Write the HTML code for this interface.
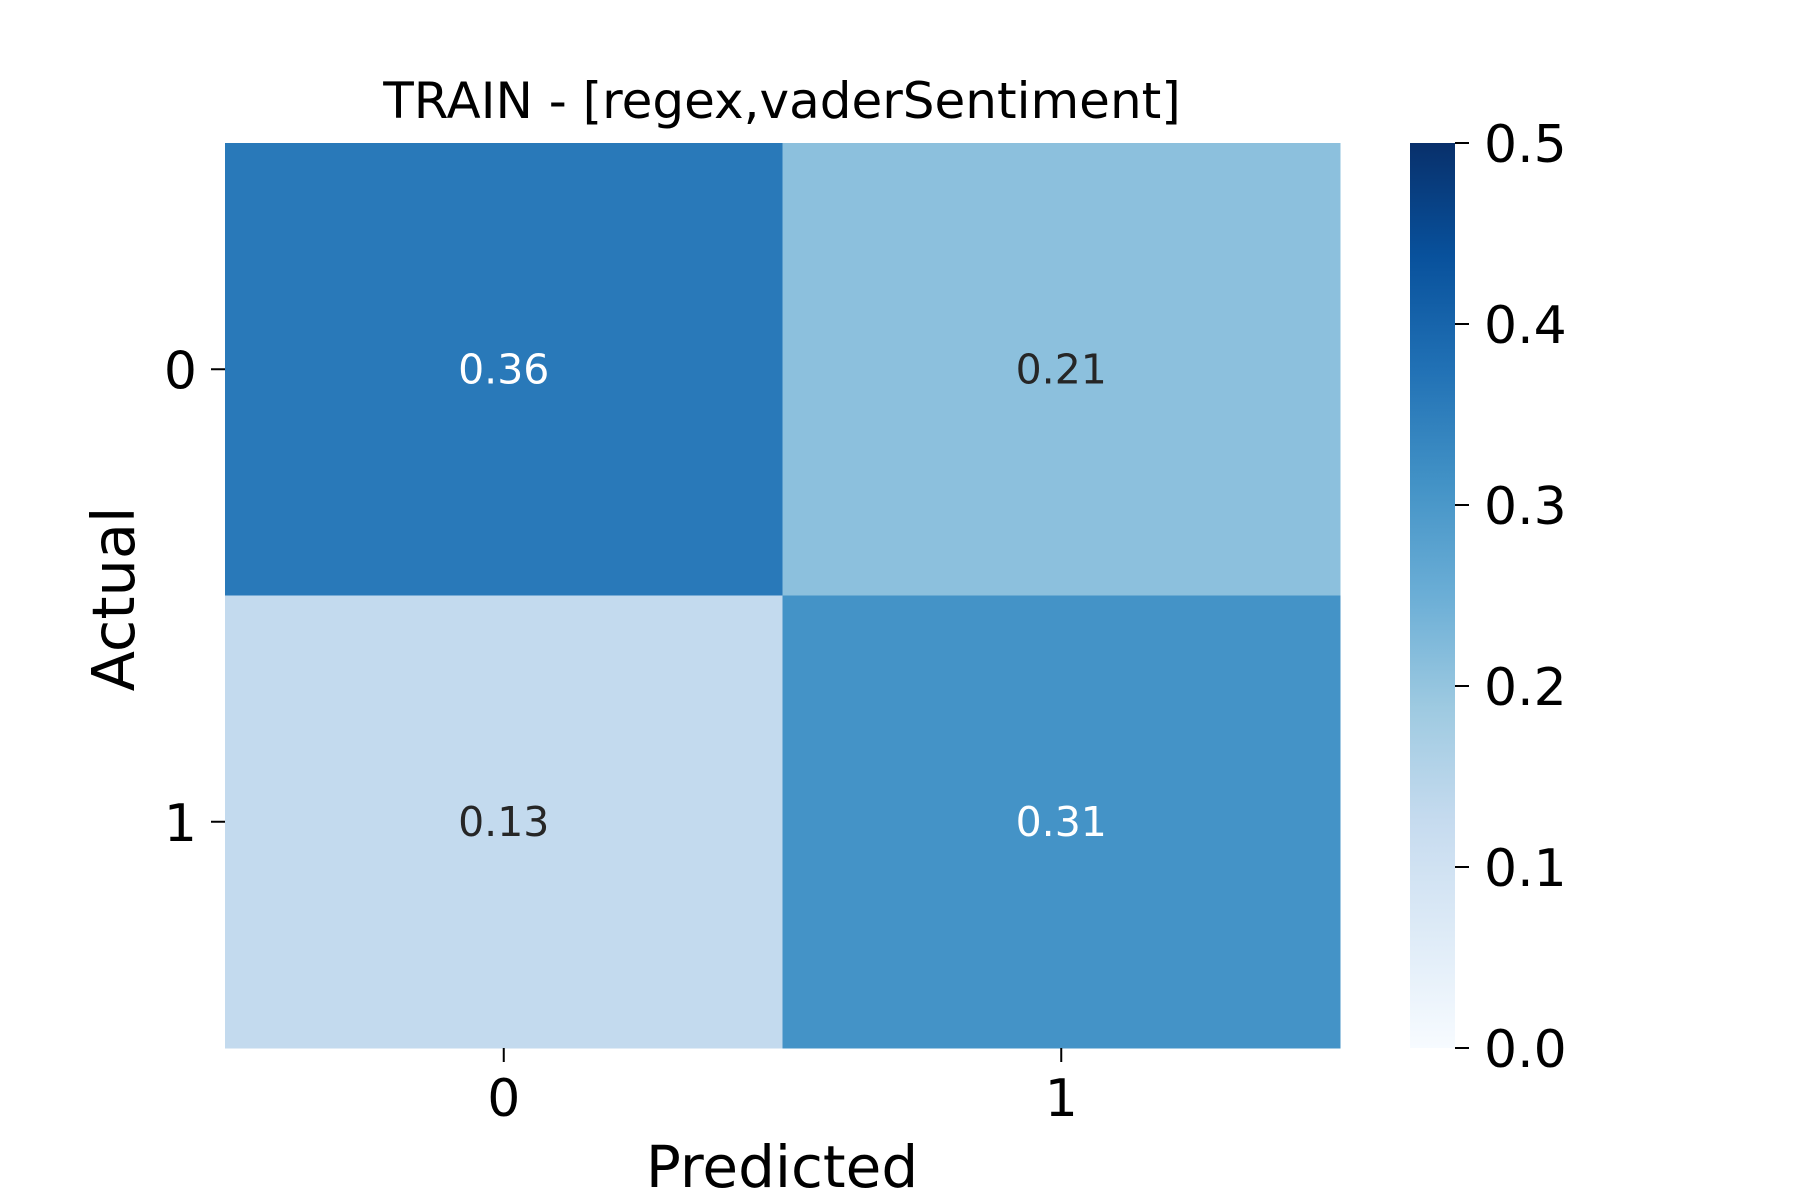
<!DOCTYPE html>
<html><head><meta charset="utf-8"><style>
html,body{margin:0;padding:0;background:#fff;}
svg{display:block;font-family:"DejaVu Sans","Liberation Sans",sans-serif;}
</style></head><body>
<svg id="chart" width="1800" height="1200" viewBox="0 0 1800 1200">
<defs><linearGradient id="cbgrad" x1="0" y1="1" x2="0" y2="0"></linearGradient></defs>
<text x="782" y="118" font-size="50" text-anchor="middle">TRAIN - [regex,vaderSentiment]</text>
<g id="cells"></g>
<g id="axes"></g>
<text x="782" y="1187" font-size="58" text-anchor="middle">Predicted</text>
<text transform="translate(134,599) rotate(-90)" font-size="59" text-anchor="middle">Actual</text>
</svg>
<script>
const rowLabels = ["0","1"];
const colLabels = ["0","1"];
const values = [[0.36,0.21],[0.13,0.31]];
const cbTicks = [0.0,0.1,0.2,0.3,0.4,0.5];
const vmin = 0, vmax = 0.5;
const blues = ["#f7fbff","#deebf7","#c6dbef","#9ecae1","#6baed6","#4292c6","#2171b5","#08519c","#08306b"];
const NS="http://www.w3.org/2000/svg";
const L=225,R=1340,T=143,B=1048;
const CBL=1410,CBR=1455;
function hex(h){return [1,3,5].map(i=>parseInt(h.substr(i,2),16));}
function cmap(v){let t=Math.max(0,Math.min(1,(v-vmin)/(vmax-vmin)))*(blues.length-1);let i=Math.min(Math.floor(t),blues.length-2),f=t-i;let a=hex(blues[i]),b=hex(blues[i+1]);let c=a.map((x,k)=>Math.round(x+(b[k]-x)*f));return {css:`rgb(${c[0]},${c[1]},${c[2]})`,lum:(0.299*c[0]+0.587*c[1]+0.114*c[2])/255};}
const xs=c=>L+(R-L)*c/colLabels.length;
const ys=r=>T+(B-T)*r/rowLabels.length;
const cbY=v=>B-(B-T)*(v-vmin)/(vmax-vmin);
function mk(tag,attrs,parent){const e=document.createElementNS(NS,tag);for(const k in attrs)e.setAttribute(k,attrs[k]);parent.appendChild(e);return e;}
const cells=document.getElementById('cells'),axes=document.getElementById('axes');
const cw=(R-L)/colLabels.length,ch=(B-T)/rowLabels.length;
values.forEach((row,r)=>row.forEach((v,c)=>{
 const col=cmap(v);
 const rc=mk('rect',{x:xs(c),y:ys(r),width:cw+0.5,height:ch+0.5,fill:col.css},cells);
 
 
 const t=mk('text',{x:xs(c)+cw/2,y:ys(r)+ch/2+14,'font-size':41,'text-anchor':'middle',fill:col.lum<0.6?'#ffffff':'#262626'},cells);
 t.textContent=v.toFixed(2);
 
 
}));
colLabels.forEach((l,c)=>{
 const x=xs(c)+cw/2;
 const tk=mk('line',{x1:x,x2:x,y1:B,y2:B+14,stroke:'#000','stroke-width':2},axes);
 
 
 const t=mk('text',{x:x,y:B+68,'font-size':52,'text-anchor':'middle'},axes);
 t.textContent=l;
 
 
});
rowLabels.forEach((l,r)=>{
 const y=ys(r)+ch/2;
 const tk=mk('line',{x1:L-14,x2:L,y1:y,y2:y,stroke:'#000','stroke-width':2},axes);
 
 
 const t=mk('text',{x:L-28,y:y+19,'font-size':52,'text-anchor':'end'},axes);
 t.textContent=l;
 
 
});
const grad=document.getElementById('cbgrad');
blues.forEach((b,i)=>mk('stop',{offset:(i/(blues.length-1)),'stop-color':b},grad));
const cb=mk('rect',{x:CBL,y:T,width:CBR-CBL,height:B-T,fill:'url(#cbgrad)'},axes);


cbTicks.forEach(v=>{
 const y=cbY(v);
 const tk=mk('line',{x1:CBR,x2:CBR+14,y1:y,y2:y,stroke:'#000','stroke-width':2},axes);
 
 
 const t=mk('text',{x:CBR+29,y:y+19,'font-size':52},axes);
 t.textContent=v.toFixed(1);
 
 
});
</script>
</body></html>
